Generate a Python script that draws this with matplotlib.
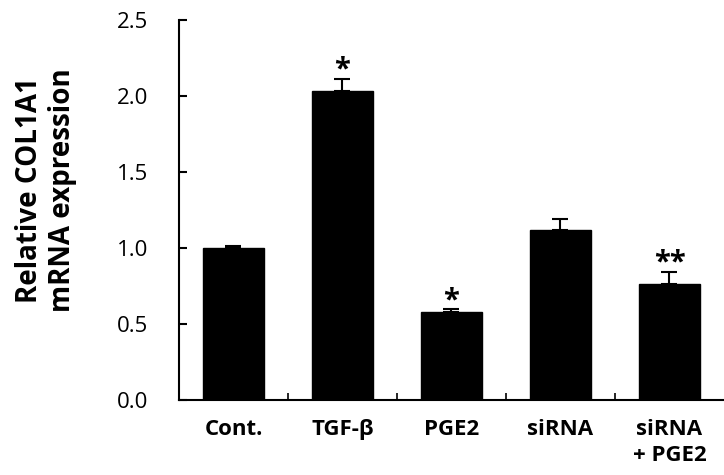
import matplotlib
matplotlib.use("Agg")
import matplotlib.pyplot as plt
import numpy as np

plt.rcParams['font.family'] = ['Open Sans', 'DejaVu Sans']

categories = ["Cont.", "TGF-β", "PGE2", "siRNA", "siRNA\n+ PGE2"]
means = [1.00, 2.034, 0.578, 1.117, 0.759]
errors = [0.01, 0.08, 0.016, 0.072, 0.083]
marks = ["", "*", "*", "", "**"]

fig = plt.figure(figsize=(7.24, 4.75), dpi=100)
ax = fig.add_axes([0.2472, 0.1589, 0.7528, 0.7990])

x = np.arange(len(categories))
ax.bar(x, means, width=0.56, color="black", edgecolor="black")
ax.errorbar(x, means, yerr=[np.zeros(len(means)), errors], fmt="none",
            ecolor="black", elinewidth=1.5, capsize=6, capthick=1.5)

for xi, m, e, s in zip(x, means, errors, marks):
    if s:
        ax.text(xi, m + e - 0.04, s, ha="center", va="bottom",
                fontsize=21, fontweight="bold", color="black")

ax.set_xlim(-0.5, 4.5)
ax.set_ylim(0, 2.5)
ax.set_yticks([0.0, 0.5, 1.0, 1.5, 2.0, 2.5])
ax.set_yticklabels(["0.0", "0.5", "1.0", "1.5", "2.0", "2.5"], fontsize=16)
ax.set_xticks(x)
ax.set_xticklabels(categories, fontsize=16, fontweight="bold", linespacing=1.3)
ax.set_xticks(x[:-1] + 0.5, minor=True)

ax.tick_params(axis="y", direction="in", length=6, width=1.5, pad=22)
ax.tick_params(axis="x", which="major", length=0, pad=14)
ax.tick_params(axis="x", which="minor", direction="in", length=5, width=1.2)

for side in ["top", "right"]:
    ax.spines[side].set_visible(False)
for side in ["left", "bottom"]:
    ax.spines[side].set_linewidth(1.5)

fig.text(46 / 724, 1 - 190 / 475, "Relative COL1A1\nmRNA expression",
         rotation=90, ha="center", va="center", multialignment="center",
         fontsize=20, fontweight="bold", linespacing=1.15)

fig.savefig("out.png", dpi=100)
